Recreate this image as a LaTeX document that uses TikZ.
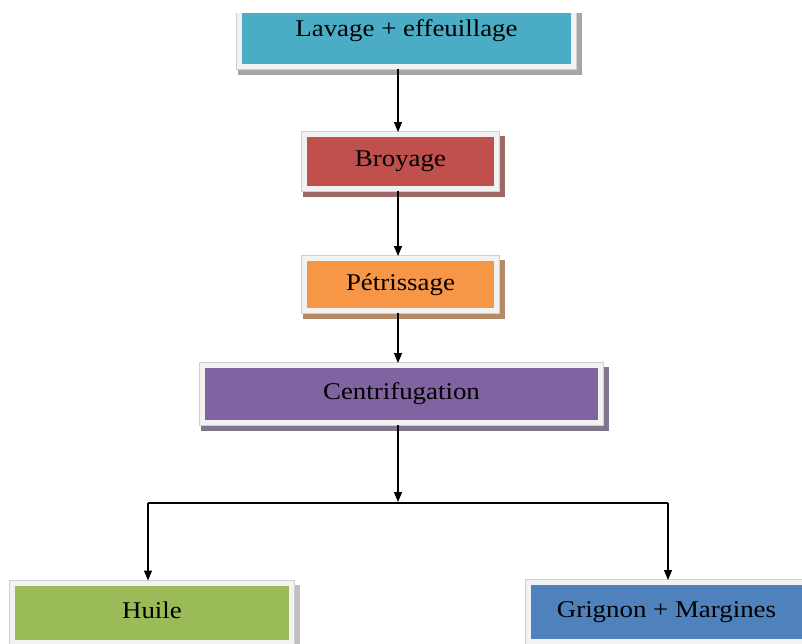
\documentclass[tikz,border=0pt]{standalone}
\usepackage{fontspec}
\setmainfont[FakeStretch=1.12]{Liberation Serif}
\usetikzlibrary{arrows.meta,backgrounds,calc}
\definecolor{cLav}{HTML}{4BACC6}
\definecolor{cBro}{HTML}{C0504D}
\definecolor{cPet}{HTML}{F79646}
\definecolor{cCen}{HTML}{8064A2}
\definecolor{cHui}{HTML}{9BBB59}
\definecolor{cGri}{HTML}{4F81BD}
\definecolor{frameC}{HTML}{F2F2F2}
\definecolor{outlineC}{HTML}{CFCFCF}
\tikzset{
  stepbox/.style={rectangle, fill=#1, draw=frameC, line width=5pt,
    preaction={draw=outlineC, line width=6.5pt},
    outer sep=2.5pt, inner sep=0pt,
    font=\fontsize{24}{28}\selectfont, text=black},
  conn/.style={line width=1.2pt, draw=black},
  arr/.style={conn, -{Triangle[length=10pt,width=8pt]}},
}
\newcommand{\boxshadow}[2]{%
  \fill[#2] ($(#1.south west)+(1,-5.5)$) rectangle ($(#1.north east)+(5.5,-4)$);}
\begin{document}
\begin{tikzpicture}[x=1pt,y=1pt]
\useasboundingbox (0,0) rectangle (802,-643);
\begin{scope}
\clip (0,-13.5) rectangle (802,-643);
\node[stepbox=cLav, minimum width=334pt, minimum height=71pt] (lav) at (406.5,-31) {Lavage + effeuillage};
\node[stepbox=cBro, minimum width=192pt, minimum height=54pt] (bro) at (400.5,-161.5) {Broyage};
\node[stepbox=cPet, minimum width=192pt, minimum height=52pt] (pet) at (400.5,-284.5) {Pétrissage};
\node[stepbox=cCen, minimum width=398pt, minimum height=57pt] (cen) at (401.5,-394) {Centrifugation};
\node[stepbox=cHui, minimum width=279pt, minimum height=59pt] (hui) at (152,-612.5) {\raisebox{4pt}{Huile}};
\node[stepbox=cGri, minimum width=276pt, minimum height=59pt] (gri) at (666.5,-612) {\raisebox{3pt}{Grignon + Margines}};
\begin{scope}[on background layer]
\clip (0,-13.5) rectangle (802,-643);
\boxshadow{lav}{gray!70}
\boxshadow{bro}{cBro!45!gray}
\boxshadow{pet}{cPet!45!gray}
\boxshadow{cen}{cCen!40!gray}
\boxshadow{hui}{gray!50}
\boxshadow{gri}{gray!50}
\end{scope}
\end{scope}
\coordinate (ax) at (398,0);
\coordinate (jc) at (398,-502);
\coordinate (jl) at (148,-503);
\coordinate (jr) at (668,-503);
\draw[arr] (lav.south -| ax) -- (bro.north -| ax);
\draw[arr] (bro.south -| ax) -- (pet.north -| ax);
\draw[arr] (pet.south -| ax) -- (cen.north -| ax);
\draw[arr] (cen.south -| ax) -- (jc);
\draw[conn] (jl) -- (jr);
\draw[arr] (jl) -- (jl |- hui.north);
\draw[arr] (jr) -- (jr |- gri.north);
\end{tikzpicture}
\end{document}
